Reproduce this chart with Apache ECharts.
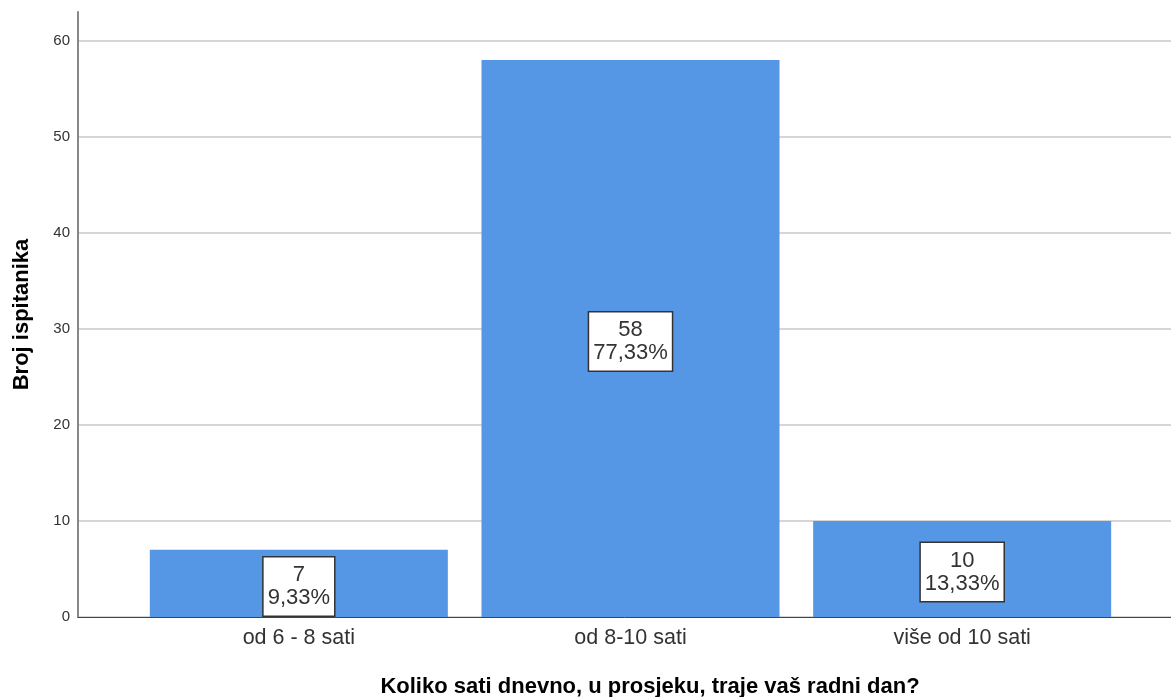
<!DOCTYPE html>
<html>
<head>
<meta charset="utf-8">
<script src="https://cdn.jsdelivr.net/npm/echarts@6/dist/echarts.min.js"></script>
<style>html,body{margin:0;padding:0;background:#fff}#c{width:1171px;height:697px}</style>
</head>
<body>
<div id="c"></div>
<script>
const categories = ['od 6 - 8 sati', 'od 8-10 sati', 'više od 10 sati'];
const counts = [7, 58, 10];
const percents = ['9,33%', '77,33%', '13,33%'];
const yTitle = 'Broj ispitanika';
const xTitle = 'Koliko sati dnevno, u prosjeku, traje vaš radni dan?';

const chart = echarts.init(document.getElementById('c'));
const font = 'Liberation Sans, Arial, sans-serif';
chart.setOption({
  animation: false,
  grid: [
    {left: 78, right: 0, top: 12, bottom: 80, outerBoundsMode: 'none', containLabel: false},
    {left: 133, right: 43, top: 12, bottom: 80, outerBoundsMode: 'none', containLabel: false}
  ],
  xAxis: [
    {gridIndex: 0, type: 'value', min: 0, max: 1, axisLabel: {show: false}, axisTick: {show: false}, splitLine: {show: false},
     axisLine: {show: true, lineStyle: {color: '#444', width: 1}}},
    {gridIndex: 1, type: 'category', data: categories, axisLine: {show: false}, axisTick: {show: false},
     axisLabel: {fontFamily: font, fontSize: 21.5, color: '#333', margin: 10},
     name: xTitle, nameLocation: 'middle', nameGap: 59,
     nameTextStyle: {fontFamily: font, fontSize: 22, fontWeight: 'bold', color: '#000', padding: [0, 0, 0, 39]}}
  ],
  yAxis: [
    {gridIndex: 0, type: 'value', min: 0, max: 63, interval: 10,
     axisLine: {show: true, lineStyle: {color: '#888', width: 2}}, axisTick: {show: false},
     axisLabel: {fontFamily: font, fontSize: 15, color: '#333', margin: 8, showMaxLabel: false},
     splitLine: {show: true, showMaxLine: false, lineStyle: {color: '#c8c8c8', width: 1.5}},
     name: yTitle, nameLocation: 'middle', nameGap: 45, nameRotate: 90,
     nameTextStyle: {fontFamily: font, fontSize: 22, fontWeight: 'bold', color: '#000'}},
    {gridIndex: 1, type: 'value', min: 0, max: 63, show: false, splitLine: {show: false}}
  ],
  series: [{
    type: 'bar', xAxisIndex: 1, yAxisIndex: 1, barWidth: 298,
    data: counts,
    itemStyle: {color: '#5596e5'},
    label: {
      show: true, position: 'inside', offset: [0, 3],
      formatter: p => p.value + '\n' + percents[p.dataIndex],
      fontFamily: font, fontSize: 22, color: '#333', lineHeight: 23,
      backgroundColor: '#fff', borderColor: '#333', borderWidth: 1.5,
      padding: [6, 4, 6, 4], align: 'center'
    }
  }]
});
</script>
</body>
</html>
